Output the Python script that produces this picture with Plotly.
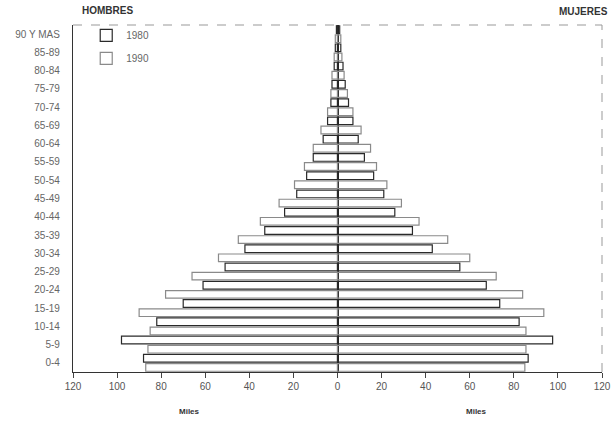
import plotly.graph_objects as go

age_groups = ["0-4", "5-9", "10-14", "15-19", "20-24", "25-29", "30-34", "35-39",
              "40-44", "45-49", "50-54", "55-59", "60-64", "65-69", "70-74",
              "75-79", "80-84", "85-89", "90 Y MAS"]

men_1980 = [88, 98, 82, 70, 61, 51, 42, 33, 24, 18.5, 14, 11, 6.5, 4.5, 3, 2.5, 1.5, 1, 0.5]
men_1990 = [87, 86, 85, 90, 78, 66, 54, 45, 35, 26.5, 19.5, 15, 11, 7.5, 4.5, 3, 2.5, 1.5, 1]
women_1980 = [86.5, 97.6, 82.4, 73.6, 67.5, 55.5, 43, 34, 26, 21, 16.4, 12.2, 9.4, 7, 5, 3.5, 2.5, 1.5, 1]
women_1990 = [85, 85.5, 85.5, 93.6, 84, 72, 60, 50, 37, 29, 22.4, 17.7, 15, 10.7, 7, 4.5, 3, 2, 1.5]

x_ticks = [-120, -100, -80, -60, -40, -20, 0, 20, 40, 60, 80, 100, 120]
x_tick_text = ["120", "100", "80", "60", "40", "20", "0", "20", "40", "60", "80", "100", "120"]

idx = list(range(len(age_groups)))

fig = go.Figure()

style = {
    "1980": dict(line=dict(color="#2a2a2a", width=1.2), offset=0.04, width=0.42),
    "1990": dict(line=dict(color="#8a8a8a", width=1.2), offset=-0.46, width=0.42),
}

for year, men, women in [("1980", men_1980, women_1980), ("1990", men_1990, women_1990)]:
    s = style[year]
    fig.add_trace(go.Bar(
        y=idx, x=[-v for v in men], orientation="h", name=year, legendgroup=year,
        showlegend=True, offset=s["offset"], width=s["width"],
        marker=dict(color="rgba(255,255,255,0)", line=s["line"]),
    ))
    fig.add_trace(go.Bar(
        y=idx, x=women, orientation="h", name=year, legendgroup=year,
        showlegend=False, offset=s["offset"], width=s["width"],
        marker=dict(color="rgba(255,255,255,0)", line=s["line"]),
    ))

font_family = "Liberation Sans, Arial, sans-serif"

fig.update_layout(
    width=614, height=422,
    margin=dict(l=73, r=12, t=25, b=50, autoexpand=False),
    paper_bgcolor="white", plot_bgcolor="white",
    barmode="overlay",
    font=dict(family=font_family, size=10, color="#555555"),
    showlegend=True,
    legend=dict(x=0.025, y=1.012, xanchor="left", yanchor="top",
                bgcolor="rgba(0,0,0,0)", font=dict(size=10, color="#666666"),
                tracegroupgap=4, itemwidth=30),
    xaxis=dict(range=[-120, 120], tickvals=x_ticks, ticktext=x_tick_text,
               automargin=False,
               showgrid=False, zeroline=True, zerolinecolor="#222222", zerolinewidth=1.6,
               showline=True, linecolor="#333333", linewidth=1.2,
               ticks="outside", ticklen=5, tickcolor="#444444",
               tickfont=dict(size=10, color="#555555"), layer="above traces"),
    yaxis=dict(range=[-0.5, 18.5], tickvals=idx, ticktext=age_groups,
               automargin=False,
               showgrid=False, zeroline=False,
               showline=True, linecolor="#333333", linewidth=1.2,
               ticks="", ticklabelstandoff=10,
               tickfont=dict(size=10, color="#666666")),
    shapes=[
        dict(type="line", xref="paper", yref="paper", x0=0, x1=1, y0=1, y1=1,
             line=dict(color="#999999", width=1, dash="dash")),
        dict(type="line", xref="paper", yref="paper", x0=1, x1=1, y0=0, y1=1,
             line=dict(color="#999999", width=1, dash="dash")),
    ],
    annotations=[
        dict(text="<b>HOMBRES</b>", xref="paper", yref="paper", x=0.013, y=1.043,
             xanchor="left", yanchor="middle", showarrow=False,
             font=dict(size=10, color="#333333")),
        dict(text="<b>MUJERES</b>", xref="paper", yref="paper", x=1.015, y=1.04,
             xanchor="right", yanchor="middle", showarrow=False,
             font=dict(size=10, color="#333333")),
        dict(text="<b>Miles</b>", x=-67, xref="x", yref="paper", y=-0.115,
             xanchor="center", yanchor="middle", showarrow=False,
             font=dict(size=8, color="#333333")),
        dict(text="<b>Miles</b>", x=63, xref="x", yref="paper", y=-0.115,
             xanchor="center", yanchor="middle", showarrow=False,
             font=dict(size=8, color="#333333")),
    ],
)

fig.write_html("out.html", config={"displayModeBar": False})
with open("out.html", "r", encoding="utf-8") as f:
    html = f.read()
html = html.replace("<body>", '<body style="margin:0;padding:0;overflow:hidden">', 1)
with open("out.html", "w", encoding="utf-8") as f:
    f.write(html)
